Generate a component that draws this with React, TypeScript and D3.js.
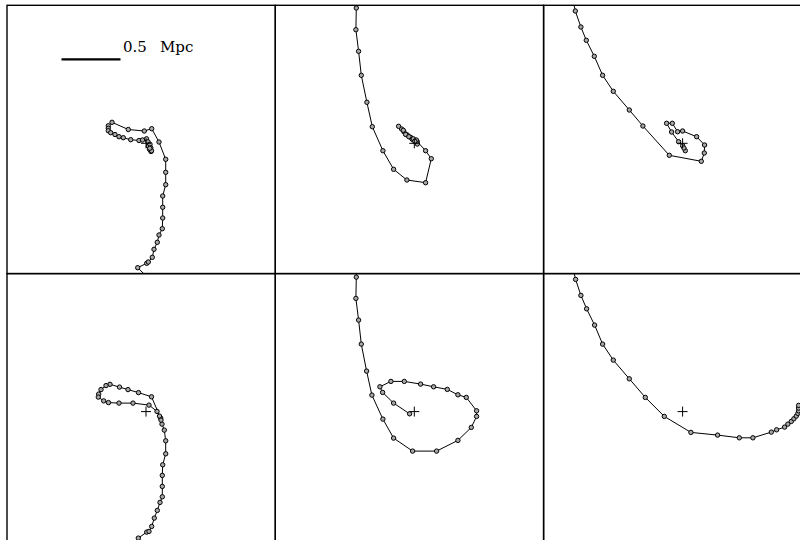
import React from 'react'
import * as d3 from 'd3'

// positions in panel units (cross = halo centre at 0,0), 118 units = 1 Mpc
const unitsPerMpc = 118
const scaleBarMpc = 0.5

const track1 = [
    [0.5, -133], [-8.3, -124.4], [0.7, -120], [2.3, -118.7], [6.3, -114], [8, -106], [11.3, -99],
    [13, -91.7], [16.3, -85.4], [16.7, -74.7], [16.7, -64], [16.7, -52.7], [19.7, -41.4], [19.7, -29],
    [19.7, -16], [13, 1.3], [5.7, 14.6], [-1.7, 12.3], [-17.7, 13.8], [-34, 21], [-37.7, 17.5],
    [-37.7, 15], [-37.7, 12.6], [-35.3, 10.6], [-31, 8.8], [-27, 6.6], [-22.7, 5.6], [-15.3, 3.6],
    [-7, 2.8], [-3.5, 3.3], [0.5, 4.5], [2, 1.5], [2.8, -1.5], [3.5, -4], [4.5, -6.5], [5, -8.2],
    [3.5, -6], [2.5, -3], [4, -1], [4.8, -4.5], [5.5, -7.5], [3.8, -5],
]

const track2 = [
    [-58, 146], [-58, 135.3], [-58.4, 113.6], [-55.7, 92], [-53, 68], [-47.4, 41], [-42, 16.6],
    [-31.4, -7.4], [-20.7, -26], [-7.4, -36.7], [11.3, -39.4], [17, -15.4], [11.3, -7.4], [3, 1.6],
    [-0.4, 3.3], [-3.7, 6], [-7, 8.3], [-10.4, 11.6], [-12.7, 14.3], [-15.7, 17], [-11, 13],
    [-8.7, 8.9], [-5.4, 6.6], [-2, 4], [1.3, 1.6], [3, -0.7], [2, 3.3], [-1, 4.5], [0.5, 2],
]

const track3 = [
    [-110, 145.3], [-107.3, 132.3], [-101.7, 116.3], [-96.3, 103], [-88.3, 87], [-80, 68],
    [-69.3, 52], [-53.3, 33.3], [-39.7, 17.3], [-13.3, -12], [18.7, -18], [21.7, -9.7], [22, -1.7],
    [14, 6.6], [0, 12.3], [-5, 11.6], [-10.3, 20], [-16, 20], [-11, 11.3], [-4, 1.6], [0, -2.4],
    [2.7, -7.4], [1.3, -4.7],
]

const track4 = [
    [0, -133.5], [-7.7, -126.5], [0.7, -120.5], [3, -119.8], [5.7, -114.8], [8.3, -106.5],
    [11.3, -98.8], [14, -90.8], [16.3, -85.2], [16.3, -74.8], [16.3, -63.8], [16.7, -53.2],
    [19.7, -42.2], [19.7, -29.2], [18.3, -18.5], [16, -12.5], [14.7, -6.5], [5.5, 14.8], [-7.5, 19],
    [-18, 22], [-26.5, 24.5], [-36, 27.3], [-40, 26], [-45, 22], [-47.3, 17.5], [-47.7, 14.5],
    [-42.3, 10.7], [-37.5, 9], [-27, 8.5], [-13, 8.5], [3, 6.5], [11, 0.2], [13.5, -4.5], [15, -8.5],
]

const track5 = [
    [-58, 146.5], [-58, 134.5], [-58.4, 113.2], [-55.7, 91.5], [-53, 67.5], [-47.7, 40.5],
    [-42.4, 16.5], [-31.4, -7.5], [-20.7, -26.5], [-1.7, -39.5], [22.3, -39.5], [43.6, -28.8],
    [57, -15.8], [62.3, -4.8], [62.3, 0.8], [52, 14.2], [43.6, 16.8], [33, 22.2], [19.3, 24.8],
    [6.3, 27.5], [-10, 30.2], [-23.4, 30.2], [-34.4, 24.8], [-31.7, 19.2], [-20.7, 8.5], [-4.7, -2.2],
]

const track6 = [
    [-110, 145.5], [-107, 132.2], [-101.7, 116.2], [-96, 102.8], [-88, 86.5], [-80, 67.5],
    [-69.3, 51.5], [-53.3, 32.8], [-37.3, 14.2], [-18.3, -4.8], [8.3, -20.8], [35, -23.5],
    [56.7, -26.2], [70.3, -26.2], [88.7, -20.5], [94, -18.2], [102, -15.5], [105.3, -12.5],
    [108.7, -9.8], [111.3, -7.2], [113.7, -4.5], [115.3, -1.8], [116, 0.8], [116, 3.5], [116, 6.2],
]

const tracks = [track1, track2, track3, track4, track5, track6]

const panelSize = 268.3
const figLeft = 7
const figTop = 5.3

export default function App() {

    const x = d3.scaleLinear().domain([-139, 129.3]).range([0, panelSize])
    const y = d3.scaleLinear().domain([-130.3, 138]).range([panelSize, 0])

    const line = d3.line<number[]>()
                    .x(d => x(d[0]))
                    .y(d => y(d[1]))

    // scale bar sits in the first panel
    const barStart = -84.5
    const barEnd = barStart + scaleBarMpc * unitsPerMpc
    const barY = 84

    return (
        <svg width={800} height={540}
             style={{position: 'absolute', left: 0, top: 0, background: '#fff'}}>
            <defs>
                <clipPath id="panel-clip">
                    <rect x={0} y={0} width={panelSize} height={panelSize} />
                </clipPath>
            </defs>
            {tracks.map((t, i) => {
                const col = i % 3
                const row = Math.floor(i / 3)
                return (
                    <g key={i} transform={`translate(${figLeft + col * panelSize}, ${figTop + row * panelSize})`}>
                        <g clipPath="url(#panel-clip)">
                            <path d={line(t) || ''} fill="none" stroke="#000" strokeWidth={1} />
                            {t.map((p, j) => (
                                <circle key={j} cx={x(p[0])} cy={y(p[1])} r={2.2}
                                        fill="#a8a8a8" stroke="#000" strokeWidth={1} />
                            ))}
                            <path d={`M${x(-5)},${y(0)}H${x(5)}M${x(0)},${y(-5)}V${y(5)}`}
                                  stroke="#000" strokeWidth={1} fill="none" />
                        </g>
                        <rect x={0} y={0} width={panelSize} height={panelSize}
                              fill="none" stroke="#000" strokeWidth={1.4} />
                        {i === 0 && (
                            <g>
                                <line x1={x(barStart)} x2={x(barEnd)} y1={y(barY)} y2={y(barY)}
                                      stroke="#000" strokeWidth={2.2} />
                                <text x={x(barEnd) + 2.5} y={y(91)} fontFamily="DejaVu Serif"
                                      fontSize={15} fill="#000">
                                    <tspan>{scaleBarMpc}</tspan>
                                    <tspan x={x(barEnd) + 39.5}>Mpc</tspan>
                                </text>
                            </g>
                        )}
                    </g>
                )
            })}
        </svg>
    )
}
